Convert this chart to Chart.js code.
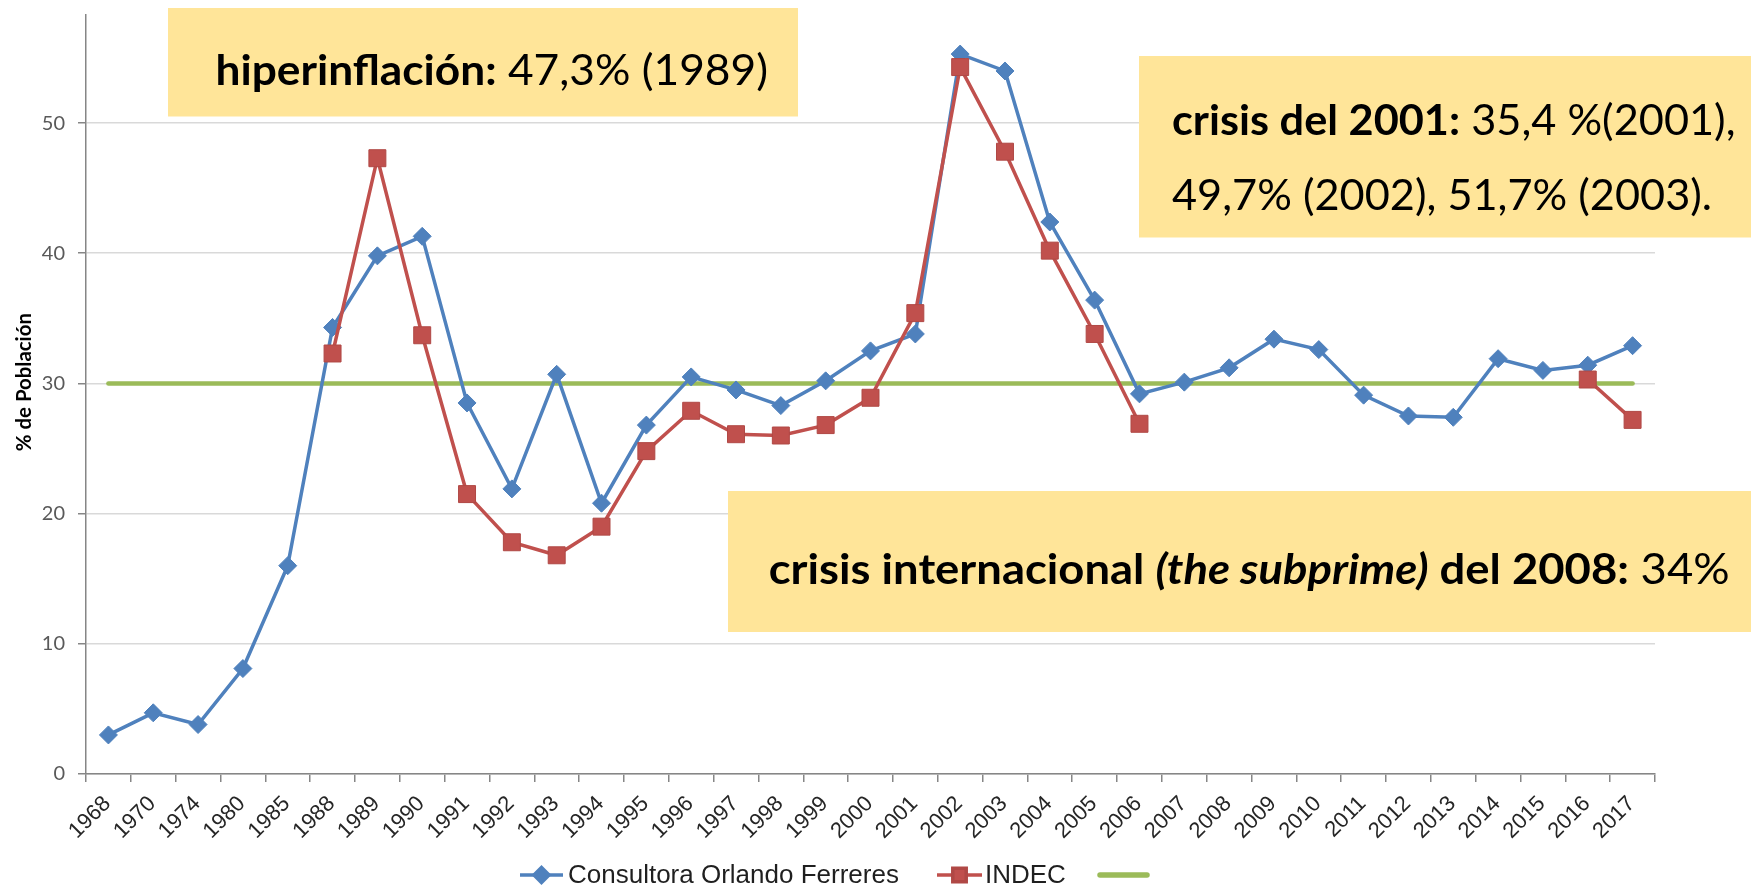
<!DOCTYPE html>
<html>
<head>
<meta charset="utf-8">
<script src="https://cdn.jsdelivr.net/npm/chart.js@4.4.1/dist/chart.umd.min.js"></script>
<style>
html,body{margin:0;padding:0;background:#ffffff;overflow:hidden}
canvas{display:block}
</style>
</head>
<body>
<canvas id="c" width="1751" height="887"></canvas>
<script>
// ---------- DATA ----------
const years = ['1968','1970','1974','1980','1985','1988','1989','1990','1991','1992','1993','1994','1995','1996','1997','1998','1999','2000','2001','2002','2003','2004','2005','2006','2007','2008','2009','2010','2011','2012','2013','2014','2015','2016','2017'];
const ferreres = [3.0,4.7,3.8,8.1,16.0,34.3,39.8,41.3,28.5,21.9,30.7,20.8,26.8,30.5,29.5,28.3,30.2,32.5,33.8,55.3,54.0,42.4,36.4,29.2,30.1,31.2,33.4,32.6,29.1,27.5,27.4,31.9,31.0,31.4,32.9];
const indec = [null,null,null,null,null,32.3,47.3,33.7,21.5,17.8,16.8,19.0,24.8,27.9,26.1,26.0,26.8,28.9,35.4,54.3,47.8,40.2,33.8,26.9,null,null,null,null,null,null,null,null,null,30.3,27.2];
const reference = [30,30,30,30,30,30,30,30,30,30,30,30,30,30,30,30,30,30,30,30,30,30,30,30,30,30,30,30,30,30,30,30,30,30,30];
const yTickValues = [0,10,20,30,40,50];
const seriesNames = ['Consultora Orlando Ferreres','INDEC',''];
const yTitle = '% de Población';
const note1 = [{t:'hiperinflación:',b:true},{t:' 47,3% (1989)'}];
const note2a = [{t:'crisis del 2001:',b:true},{t:' 35,4 %(2001),'}];
const note2b = [{t:'49,7% (2002), 51,7% (2003).'}];
const note3 = [{t:'crisis internacional ',b:true},{t:'(the subprime)',b:true,i:true},{t:' del 2008:',b:true},{t:' 34%'}];

// ---------- STYLE ----------
const BLUE = '#4F81BD', RED = '#C0504D', GREEN = '#9BBB59';
const NOTE_FILL = '#FFE599';
const NOTE_FONT = 'Lato';
const NOTE_SIZE = 42;

const measureCtx = document.createElement('canvas').getContext('2d');

function fontStr(r, size){ return (r.i?'italic ':'')+(r.b?'bold ':'')+size+'px '+NOTE_FONT; }
function runsWidth(ctx, runs, size){
  let w = 0;
  for (const r of runs){ ctx.font = fontStr(r,size); w += ctx.measureText(r.t).width; }
  return w;
}
function drawRuns(ctx, runs, x, baseline, size, sx){
  ctx.save();
  ctx.translate(x, baseline);
  ctx.scale(sx, 1);
  ctx.textBaseline = 'alphabetic';
  ctx.textAlign = 'left';
  ctx.fillStyle = '#000';
  let cx = 0;
  for (const r of runs){
    ctx.font = fontStr(r,size);
    ctx.fillText(r.t, cx, 0);
    cx += ctx.measureText(r.t).width;
  }
  ctx.restore();
}

// y-axis title size: fit to measured length, shifted slightly upward with leading spaces
measureCtx.font = 'bold 19px Lato';
const titleW = measureCtx.measureText(yTitle).width;
const titleSize = Math.round(19 * 138 / titleW * 10) / 10;
measureCtx.font = 'bold ' + titleSize + 'px Lato';
const spaceW = measureCtx.measureText(' ').width;
const nSpaces = Math.max(0, Math.round(23 / spaceW));
const yTitleText = ' '.repeat(nSpaces) + yTitle;

const notesPlugin = {
  id: 'notes',
  afterDraw(chart){
    const ctx = chart.ctx;
    ctx.save();
    ctx.fillStyle = NOTE_FILL;
    ctx.fillRect(168, 8, 630, 108.5);
    drawRuns(ctx, note1, 215.5, 85, NOTE_SIZE, 552.5 / runsWidth(ctx, note1, NOTE_SIZE));
    ctx.fillStyle = NOTE_FILL;
    ctx.fillRect(1139, 56, 612, 181.5);
    const sx2 = 563.5 / runsWidth(ctx, note2a, NOTE_SIZE);
    drawRuns(ctx, note2a, 1172, 135, NOTE_SIZE, sx2);
    drawRuns(ctx, note2b, 1172, 210, NOTE_SIZE, sx2);
    ctx.fillStyle = NOTE_FILL;
    ctx.fillRect(728, 491, 1023, 141);
    drawRuns(ctx, note3, 768.7, 584, NOTE_SIZE, 961 / runsWidth(ctx, note3, NOTE_SIZE));
    ctx.restore();
  }
};

const legendPlugin = {
  id: 'excelLegend',
  afterDraw(chart){
    const ctx = chart.ctx;
    const ds = chart.data.datasets;
    const y = 875;
    const items = [
      {d: ds[0], x0: 520, x1: 563, tx: 568, r: 7.5},
      {d: ds[1], x0: 937, x1: 982, tx: 985, r: 9.5},
      {d: ds[2], x0: 1100, x1: 1147, tx: 1152, r: 0}
    ];
    ctx.save();
    for (const it of items){
      ctx.strokeStyle = it.d.borderColor;
      ctx.lineWidth = it.d.borderWidth + (it.r ? 0 : 1);
      ctx.lineCap = it.r ? 'butt' : 'round';
      ctx.beginPath(); ctx.moveTo(it.x0, y); ctx.lineTo(it.x1, y); ctx.stroke();
      if (it.r){
        ctx.fillStyle = it.d.pointBackgroundColor;
        ctx.strokeStyle = it.d.pointBorderColor;
        Chart.helpers.drawPoint(ctx, {pointStyle: it.d.pointStyle, radius: it.r, rotation: 0, borderWidth: 1}, (it.x0+it.x1)/2, y);
      }
      if (it.d.label){
        ctx.fillStyle = '#1f1f1f';
        ctx.font = '26px "Liberation Sans", Arial, sans-serif';
        ctx.textAlign = 'left';
        ctx.textBaseline = 'middle';
        ctx.fillText(it.d.label, it.tx, y + 1);
      }
    }
    ctx.restore();
  }
};

new Chart(document.getElementById('c'), {
  type: 'line',
  data: {
    labels: years,
    datasets: [
      {
        label: seriesNames[0], data: ferreres,
        borderColor: BLUE, backgroundColor: BLUE, borderWidth: 3.5,
        pointStyle: 'rectRot', pointRadius: 9, pointBackgroundColor: BLUE, pointBorderColor: BLUE, pointBorderWidth: 1,
        tension: 0, order: 2
      },
      {
        label: seriesNames[1], data: indec,
        borderColor: RED, backgroundColor: RED, borderWidth: 3.5,
        pointStyle: 'rect', pointRadius: 12, pointBackgroundColor: RED, pointBorderColor: '#B04845', pointBorderWidth: 1,
        tension: 0, spanGaps: false, order: 1
      },
      {
        label: seriesNames[2], data: reference,
        borderColor: GREEN, backgroundColor: GREEN, borderWidth: 4.5, borderCapStyle: 'round',
        pointRadius: 0, tension: 0, order: 3
      }
    ]
  },
  options: {
    responsive: false,
    devicePixelRatio: 1,
    animation: false,
    events: [],
    layout: { padding: { top: 15, right: 96, left: 0, bottom: 0 } },
    plugins: { legend: { display: false }, tooltip: { enabled: false } },
    scales: {
      x: {
        type: 'category',
        offset: true,
        grid: { offset: true, drawOnChartArea: false, drawTicks: true, tickLength: 8, color: '#868686', tickColor: '#868686', lineWidth: 1.5 },
        border: { display: true, color: '#868686', width: 1.5 },
        ticks: { autoSkip: false, maxRotation: 45, minRotation: 45, padding: 9, labelOffset: -1, color: '#262626',
                 font: { family: '"Liberation Sans", Arial, sans-serif', size: 22 } },
        afterFit(scale){ scale.height = 113; }
      },
      y: {
        min: 0, max: 58.3,
        grid: { color: '#D9D9D9', lineWidth: 1.5, drawTicks: true, tickLength: 8, tickColor: '#868686' },
        border: { display: true, color: '#868686', width: 1.5 },
        ticks: { stepSize: 10, includeBounds: false, padding: 13, color: '#595959',
                 font: { family: 'Lato, sans-serif', size: 20 } },
        afterBuildTicks(scale){ scale.ticks = yTickValues.map(v => ({ value: v })); },
        title: { display: true, text: yTitleText, color: '#000', padding: { top: 24 - titleSize * 0.6, bottom: 0 },
                 font: { family: 'Lato, sans-serif', size: titleSize, weight: 'bold' } },
        afterFit(scale){ scale.width = 86; scale.paddingTop = 0; }
      }
    }
  },
  plugins: [notesPlugin, legendPlugin]
});
</script>
</body>
</html>
